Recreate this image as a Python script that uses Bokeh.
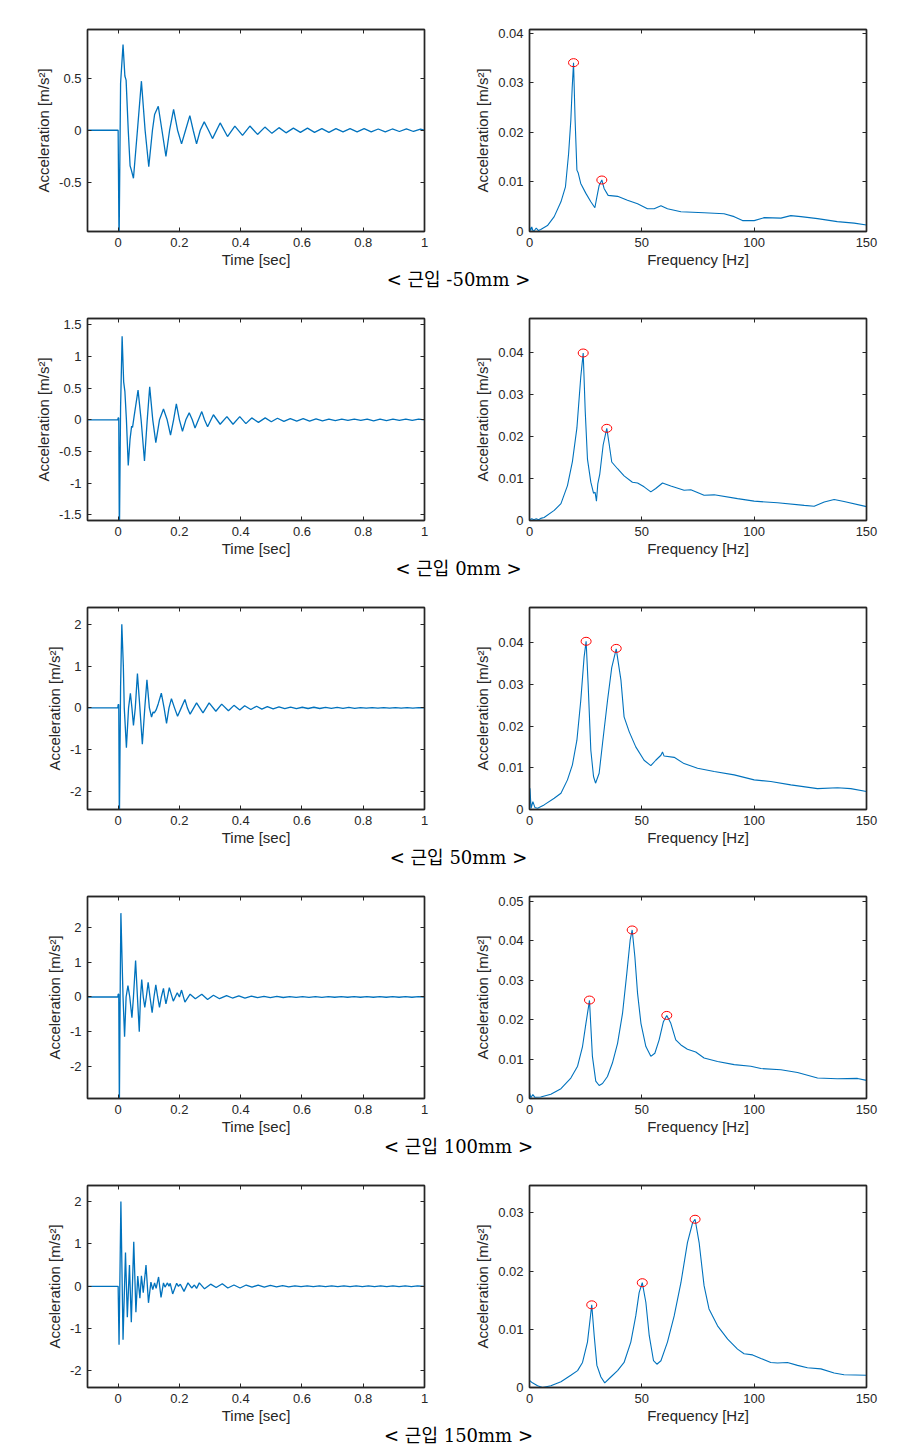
from bokeh.plotting import figure
from bokeh.layouts import column, row
from bokeh.models import Range1d, LinearAxis, FixedTicker, CustomJSTickFormatter
from bokeh.core.properties import value
from bokeh.embed import file_html
from bokeh.resources import INLINE

# ---------------- data ----------------
captions = ["< 근입 -50mm >", "< 근입 0mm >", "< 근입 50mm >", "< 근입 100mm >", "< 근입 150mm >"]

time_xticks = [0, 0.2, 0.4, 0.6, 0.8, 1]
time_xlabels = ["0", "0.2", "0.4", "0.6", "0.8", "1"]
freq_xticks = [0, 50, 100, 150]
freq_xlabels = ["0", "50", "100", "150"]

time_yticks = [
    [-0.5, 0, 0.5],
    [-1.5, -1, -0.5, 0, 0.5, 1, 1.5],
    [-2, -1, 0, 1, 2],
    [-2, -1, 0, 1, 2],
    [-2, -1, 0, 1, 2],
]
time_ylabels = [
    ["-0.5", "0", "0.5"],
    ["-1.5", "-1", "-0.5", "0", "0.5", "1", "1.5"],
    ["-2", "-1", "0", "1", "2"],
    ["-2", "-1", "0", "1", "2"],
    ["-2", "-1", "0", "1", "2"],
]
time_ylims = [(-0.97, 0.965), (-1.59, 1.6), (-2.43, 2.40), (-2.93, 2.90), (-2.39, 2.38)]

freq_yticks = [
    [0, 0.01, 0.02, 0.03, 0.04],
    [0, 0.01, 0.02, 0.03, 0.04],
    [0, 0.01, 0.02, 0.03, 0.04],
    [0, 0.01, 0.02, 0.03, 0.04, 0.05],
    [0, 0.01, 0.02, 0.03],
]
freq_ylabels = [
    ["0", "0.01", "0.02", "0.03", "0.04"],
    ["0", "0.01", "0.02", "0.03", "0.04"],
    ["0", "0.01", "0.02", "0.03", "0.04"],
    ["0", "0.01", "0.02", "0.03", "0.04", "0.05"],
    ["0", "0.01", "0.02", "0.03"],
]
freq_ymax = [0.0408, 0.048, 0.0484, 0.0513, 0.0347]

# time histories (extrema and crossings)
t_m50 = [-0.1, 0.0, 0.003, 0.008, 0.016, 0.022, 0.026, 0.033, 0.039, 0.043, 0.050, 0.063, 0.076, 0.088,
         0.100, 0.112, 0.119, 0.131, 0.143, 0.156, 0.168, 0.181, 0.194, 0.207, 0.220, 0.234, 0.245, 0.256,
         0.268, 0.281, 0.295, 0.308, 0.333, 0.357, 0.381, 0.406, 0.430, 0.455, 0.479, 0.502, 0.525, 0.548,
         0.572, 0.595, 0.618, 0.641, 0.665, 0.688, 0.711, 0.734, 0.757, 0.780, 0.803, 0.826, 0.849, 0.872,
         0.895, 0.918, 0.941, 0.964, 0.987, 1.0]
a_m50 = [0.0, 0.0, -1.1, 0.45, 0.82, 0.52, 0.48, 0.0, -0.34, -0.38, -0.46, 0.0, 0.47, 0.0,
         -0.35, 0.0, 0.15, 0.23, 0.0, -0.25, 0.0, 0.20, 0.0, -0.13, 0.0, 0.14, 0.0, -0.13,
         0.0, 0.08, 0.0, -0.08, 0.07, -0.06, 0.04, -0.05, 0.04, -0.04, 0.03, -0.03, 0.025, -0.025,
         0.02, -0.02, 0.02, -0.02, 0.015, -0.02, 0.015, -0.015, 0.015, -0.015, 0.015, -0.015, 0.012, -0.015,
         0.012, -0.012, 0.012, -0.012, 0.01, 0.0]

t_0 = [-0.1, -0.001, 0.0, 0.002, 0.004, 0.008, 0.013, 0.018, 0.022, 0.027, 0.033, 0.039, 0.044, 0.047,
       0.052, 0.065, 0.075, 0.086, 0.095, 0.103, 0.113, 0.123, 0.135, 0.148, 0.160, 0.171, 0.181, 0.190,
       0.200, 0.210, 0.221, 0.232, 0.242, 0.251, 0.262, 0.273, 0.282, 0.292, 0.311, 0.333, 0.355, 0.375,
       0.397, 0.417, 0.436, 0.458, 0.480, 0.500, 0.520, 0.541, 0.562, 0.583, 0.604, 0.625, 0.646, 0.667,
       0.688, 0.709, 0.730, 0.750, 0.771, 0.792, 0.813, 0.834, 0.855, 0.876, 0.897, 0.918, 0.939, 0.960,
       0.981, 1.0]
a_0 = [0.0, 0.0, 0.03, 0.03, -1.9, 0.2, 1.32, 0.6, 0.45, 0.0, -0.72, -0.3, -0.1, -0.12,
       0.05, 0.47, 0.0, -0.65, 0.0, 0.52, 0.0, -0.36, 0.0, 0.17, 0.0, -0.24, 0.0, 0.25,
       0.0, -0.18, 0.0, 0.11, 0.0, -0.13, 0.0, 0.13, 0.0, -0.11, 0.08, -0.07, 0.05, -0.07,
       0.05, -0.06, 0.03, -0.04, 0.03, -0.03, 0.025, -0.025, 0.02, -0.02, 0.02, -0.02, 0.015, -0.015,
       0.012, -0.012, 0.01, -0.01, 0.01, -0.01, 0.012, -0.015, 0.012, -0.012, 0.01, -0.01, 0.01, -0.01,
       0.01, 0.0]

t_50 = [-0.1, -0.001, 0.0, 0.002, 0.004, 0.008, 0.012, 0.017, 0.020, 0.027, 0.034, 0.040, 0.045, 0.050,
        0.056, 0.063, 0.071, 0.079, 0.087, 0.094, 0.102, 0.109, 0.114, 0.118, 0.124, 0.131, 0.141, 0.150,
        0.158, 0.166, 0.174, 0.184, 0.194, 0.206, 0.218, 0.226, 0.235, 0.256, 0.277, 0.297, 0.319, 0.338,
        0.360, 0.378, 0.397, 0.413, 0.433, 0.452, 0.469, 0.487, 0.506, 0.525, 0.544, 0.563, 0.582, 0.601,
        0.620, 0.639, 0.658, 0.677, 0.696, 0.715, 0.734, 0.753, 0.772, 0.791, 0.810, 0.829, 0.848, 0.867,
        0.886, 0.905, 0.924, 0.943, 0.962, 0.981, 1.0]
a_50 = [0.0, 0.0, 0.08, 0.08, -2.8, 0.5, 2.0, 1.0, 0.0, -0.95, 0.0, 0.35, 0.0, -0.42,
        0.0, 0.82, 0.0, -0.87, 0.0, 0.67, 0.0, -0.22, -0.1, -0.12, -0.05, 0.1, 0.35, 0.0,
        -0.37, 0.0, 0.22, 0.0, -0.2, 0.0, 0.2, 0.0, -0.15, 0.12, -0.12, 0.12, -0.08, 0.09,
        -0.07, 0.06, -0.05, 0.05, -0.04, 0.04, -0.03, 0.03, -0.025, 0.025, -0.02, 0.02, -0.02, 0.015,
        -0.015, 0.015, -0.015, 0.012, -0.012, 0.01, -0.01, 0.01, -0.01, 0.008, -0.008, 0.008, -0.008, 0.008,
        -0.008, 0.008, -0.008, 0.008, -0.008, 0.008, 0.0]

t_100 = [-0.1, -0.001, 0.0, 0.002, 0.004, 0.007, 0.009, 0.013, 0.016, 0.021, 0.026, 0.032, 0.038, 0.045,
         0.050, 0.057, 0.063, 0.069, 0.073, 0.077, 0.082, 0.087, 0.092, 0.098, 0.104, 0.111, 0.117, 0.123,
         0.129, 0.135, 0.141, 0.148, 0.152, 0.156, 0.161, 0.167, 0.180, 0.193, 0.200, 0.207, 0.218, 0.235,
         0.252, 0.273, 0.292, 0.311, 0.331, 0.354, 0.373, 0.394, 0.414, 0.435, 0.455, 0.476, 0.497, 0.518,
         0.539, 0.560, 0.581, 0.602, 0.623, 0.644, 0.665, 0.686, 0.707, 0.728, 0.749, 0.770, 0.791, 0.812,
         0.833, 0.854, 0.875, 0.896, 0.917, 0.938, 0.959, 0.980, 1.0]
a_100 = [0.0, 0.0, 0.08, 0.08, -3.2, 0.5, 2.42, 1.0, 0.0, -1.15, 0.0, 0.33, 0.0, -0.6,
         0.0, 1.05, 0.0, -1.0, 0.0, 0.5, 0.0, -0.3, 0.0, 0.42, 0.0, -0.45, 0.0, 0.35,
         0.0, -0.3, 0.0, 0.25, 0.0, -0.2, 0.0, 0.27, -0.12, 0.12, 0.0, 0.2, -0.15, 0.08,
         -0.05, 0.08, -0.07, 0.05, -0.05, 0.04, -0.03, 0.03, -0.03, 0.025, -0.02, 0.02, -0.02, 0.015,
         -0.015, 0.012, -0.012, 0.012, -0.01, 0.01, -0.01, 0.008, -0.008, 0.008, -0.008, 0.008, -0.008, 0.008,
         -0.008, 0.008, -0.008, 0.008, -0.008, 0.008, -0.008, 0.008, 0.0]

t_150 = [-0.1, 0.0, 0.003, 0.009, 0.016, 0.024, 0.030, 0.037, 0.043, 0.051, 0.058, 0.064, 0.071, 0.076,
         0.082, 0.091, 0.099, 0.107, 0.113, 0.119, 0.124, 0.132, 0.140, 0.148, 0.153, 0.161, 0.166, 0.170,
         0.178, 0.191, 0.197, 0.203, 0.215, 0.228, 0.240, 0.249, 0.256, 0.265, 0.282, 0.302, 0.320, 0.340,
         0.358, 0.378, 0.398, 0.418, 0.437, 0.457, 0.477, 0.497, 0.517, 0.537, 0.557, 0.577, 0.597, 0.617,
         0.637, 0.657, 0.677, 0.697, 0.717, 0.737, 0.757, 0.777, 0.797, 0.817, 0.837, 0.857, 0.877, 0.897,
         0.917, 0.937, 0.957, 0.977, 1.0]
a_150 = [0.0, 0.0, -1.38, 2.0, -1.26, 0.80, -0.73, 0.50, -0.85, 1.05, -0.61, 0.24, -0.28, 0.25,
         -0.15, 0.50, -0.39, 0.10, -0.08, 0.08, -0.05, 0.22, -0.26, 0.08, -0.02, 0.08, 0.0, 0.07,
         -0.18, 0.07, 0.0, 0.05, -0.12, 0.08, -0.04, 0.03, -0.05, 0.08, -0.06, 0.05, -0.03, 0.06,
         -0.04, 0.03, -0.04, 0.03, -0.02, 0.03, -0.02, 0.02, -0.015, 0.015, -0.012, 0.012, -0.01, 0.01,
         -0.01, 0.01, -0.008, 0.008, -0.008, 0.008, -0.008, 0.008, -0.008, 0.008, -0.008, 0.008, -0.008, 0.008,
         -0.008, 0.008, -0.008, 0.008, 0.0]

# spectra
f_m50 = [0, 0.5, 1, 1.5, 2, 3, 4, 5, 6.5, 8, 11, 14, 16.0, 17.4, 18.4, 19.0, 19.6, 20.3, 21.1, 21.7,
         22.8, 25.1, 27.3, 29.1, 30.0, 31.0, 32.2, 33.2, 35.0, 39.2, 43.6, 48.1, 52.5, 55.5, 58.5, 61.4,
         67.4, 77.7, 86.6, 91.1, 94.8, 100, 104.5, 111.9, 116.3, 120.8, 128.2, 137, 144.5, 150]
s_m50 = [0.001, 0.0002, 0.0009, 0.0002, 0.0001, 0.0007, 0.0002, 0.0004, 0.0008, 0.0012, 0.003, 0.006,
         0.009, 0.0157, 0.0225, 0.029, 0.0341, 0.0225, 0.0124, 0.0118, 0.0097, 0.0077, 0.006, 0.0048,
         0.007, 0.0093, 0.0104, 0.0087, 0.0073, 0.0071, 0.0063, 0.0056, 0.0046, 0.0046, 0.0052, 0.0046,
         0.0040, 0.0038, 0.0036, 0.0030, 0.0022, 0.0022, 0.0028, 0.0027, 0.0032, 0.0030, 0.0026, 0.0020,
         0.0017, 0.0013]
pk_f_m50 = [19.6, 32.2]
pk_s_m50 = [0.0341, 0.0104]

f_0 = [0, 1, 2, 3, 4, 5, 6.5, 11, 14, 16.9, 19.1, 21.1, 22.8, 23.9, 24.8, 25.8, 27.3, 28.5, 29.2, 29.8,
       30.4, 31.3, 32.8, 34.4, 35.5, 36.6, 39.2, 42.1, 45.8, 48.1, 51.0, 54.0, 56.2, 59.2, 62.9, 68.8,
       71.8, 77.7, 82.2, 92.6, 100, 110.4, 122.3, 126.7, 131.2, 135.6, 140, 150]
s_0 = [0.0002, 0.0004, 0.0002, 0.0004, 0.0002, 0.0005, 0.0007, 0.0024, 0.004, 0.0083, 0.014, 0.022,
       0.034, 0.0398, 0.026, 0.0146, 0.0091, 0.0065, 0.0067, 0.0046, 0.0087, 0.0111, 0.018, 0.0219,
       0.018, 0.0139, 0.0123, 0.0106, 0.0091, 0.0089, 0.008, 0.0068, 0.0076, 0.0089, 0.0082, 0.0072,
       0.0073, 0.006, 0.0061, 0.0052, 0.0046, 0.0042, 0.0036, 0.0034, 0.0044, 0.005, 0.0045, 0.0033]
pk_f_0 = [23.9, 34.4]
pk_s_0 = [0.0398, 0.0219]

f_50 = [0, 0.2, 0.7, 1.5, 2.4, 3.6, 6.5, 11, 14, 16.9, 19.1, 21.1, 22.8, 24.3, 25.2, 26.1, 27.3, 28.5,
        29.4, 31.0, 32.5, 34.7, 36.6, 38.6, 40.7, 42.1, 44.4, 47.3, 51.0, 54.0, 56.2, 58.5, 59.2, 59.9,
        64.4, 68.8, 74.8, 82.2, 91.1, 100, 107.4, 116.3, 128.2, 137.1, 143, 150]
s_50 = [0.0, 0.0051, 0.0003, 0.0019, 0.0005, 0.0003, 0.0011, 0.0027, 0.0039, 0.0071, 0.0107, 0.0166,
        0.026, 0.0365, 0.0403, 0.030, 0.0142, 0.0079, 0.0063, 0.0087, 0.0158, 0.026, 0.034, 0.0385,
        0.031, 0.0222, 0.0186, 0.015, 0.0118, 0.0105, 0.0118, 0.013, 0.0138, 0.0128, 0.0125, 0.011,
        0.0099, 0.0091, 0.0083, 0.0071, 0.0067, 0.0059, 0.005, 0.0052, 0.005, 0.0043]
pk_f_50 = [25.2, 38.6]
pk_s_50 = [0.0403, 0.0386]

f_100 = [0, 0.6, 1.5, 2.4, 5, 9.5, 14, 18.4, 21.4, 23.6, 25.1, 26.7, 28.0, 29.5, 31.0, 32.5, 34.7, 36.9,
         39.2, 41.4, 43.3, 44.8, 45.7, 46.9, 48.1, 49.6, 51.8, 54.0, 55.8, 57.7, 59.6, 61.1, 62.9, 65.1,
         67.4, 70.3, 74.0, 77.7, 83.7, 91.1, 98.5, 103, 111.9, 119.3, 128.2, 137, 146, 150]
s_100 = [0.0014, 0.0002, 0.001, 0.0003, 0.0004, 0.0011, 0.0025, 0.0052, 0.0082, 0.0132, 0.019, 0.0249,
         0.0107, 0.0044, 0.0033, 0.0038, 0.0056, 0.009, 0.014, 0.0216, 0.0317, 0.0402, 0.0428, 0.036,
         0.0267, 0.0191, 0.0132, 0.0107, 0.0115, 0.0149, 0.0195, 0.0211, 0.0191, 0.0149, 0.0136, 0.0125,
         0.0118, 0.0103, 0.0094, 0.0086, 0.0082, 0.0076, 0.0073, 0.0066, 0.0052, 0.005, 0.0051, 0.0046]
pk_f_100 = [26.7, 45.7, 61.1]
pk_s_100 = [0.025, 0.0428, 0.0211]

f_150 = [0, 1.3, 3.6, 5.8, 9.5, 14, 18.4, 21.4, 23.6, 25.8, 27.0, 27.7, 28.8, 30.0, 31.8, 33.5, 36.2,
         39.2, 42.1, 45.1, 47.3, 48.8, 50.2, 51.8, 53.3, 55.2, 56.7, 58.5, 61.4, 64.4, 67.4, 70.3, 72.6,
         73.7, 75.5, 77.7, 79.9, 83.7, 88.2, 92.6, 95.5, 99.3, 103, 107.4, 110.4, 114.8, 119.3, 123.7,
         129.7, 135.6, 140, 150]
s_150 = [0.0012, 0.0008, 0.0003, 0.0, 0.0003, 0.001, 0.0021, 0.0029, 0.0043, 0.0078, 0.0118, 0.0142,
         0.0089, 0.0038, 0.0018, 0.0008, 0.0018, 0.0029, 0.0043, 0.0078, 0.0123, 0.0163, 0.018, 0.0146,
         0.0089, 0.0046, 0.004, 0.0046, 0.0078, 0.0123, 0.018, 0.0249, 0.0283, 0.0289, 0.0249, 0.0175,
         0.0135, 0.0106, 0.0083, 0.0066, 0.0058, 0.0056, 0.005, 0.0043, 0.0042, 0.0043, 0.0038, 0.0034,
         0.0032, 0.0025, 0.0022, 0.0021]
pk_f_150 = [27.7, 50.2, 73.7]
pk_s_150 = [0.0142, 0.018, 0.0289]

time_series = [(t_m50, a_m50), (t_0, a_0), (t_50, a_50), (t_100, a_100), (t_150, a_150)]
spectra = [(f_m50, s_m50, pk_f_m50, pk_s_m50), (f_0, s_0, pk_f_0, pk_s_0), (f_50, s_50, pk_f_50, pk_s_50),
           (f_100, s_100, pk_f_100, pk_s_100), (f_150, s_150, pk_f_150, pk_s_150)]

# ---------------- styling ----------------
AX = "#262626"
BLUE = "#0072BD"
FONT = "Liberation Sans"
FRAME_W, FRAME_H = 337, 202
TOP_FIRST, TOP = 29, 21
BOTTOM = 39
CAP_H = 27


def style_axis(ax):
    ax.axis_line_color = AX
    ax.axis_line_width = 1.4
    ax.major_tick_line_color = AX
    ax.major_tick_line_width = 1
    ax.major_tick_in = 4
    ax.major_tick_out = 0
    ax.minor_tick_line_color = None
    ax.major_label_text_font = FONT
    ax.major_label_text_font_size = "13px"
    ax.major_label_text_color = AX
    ax.major_label_standoff = 6
    ax.axis_label_text_font = FONT
    ax.axis_label_text_font_size = "15px"
    ax.axis_label_text_font_style = "normal"
    ax.axis_label_text_color = AX


def mirror(p, ticks, place):
    ax = LinearAxis(ticker=FixedTicker(ticks=ticks), formatter=CustomJSTickFormatter(code="return ''"))
    style_axis(ax)
    ax.major_label_standoff = 0
    p.add_layout(ax, place)


def base_fig(xr, yr, xt, xl, yt, yl, xlabel, bl, br, top):
    p = figure(frame_width=FRAME_W, frame_height=FRAME_H, x_range=Range1d(*xr), y_range=Range1d(*yr),
               output_backend="svg", toolbar_location=None,
               min_border_left=bl, min_border_right=br, min_border_top=top, min_border_bottom=BOTTOM)
    p.xgrid.visible = False
    p.ygrid.visible = False
    p.outline_line_color = AX
    p.outline_line_width = 1.4
    for ax in p.xaxis + p.yaxis:
        style_axis(ax)
    p.xaxis.ticker = FixedTicker(ticks=xt)
    p.xaxis.major_label_overrides = dict(zip(xt, xl))
    p.yaxis.ticker = FixedTicker(ticks=yt)
    p.yaxis.major_label_overrides = dict(zip(yt, yl))
    p.xaxis.axis_label = xlabel
    p.xaxis.axis_label_standoff = 1
    p.yaxis.axis_label = "Acceleration [m/s²]"
    p.yaxis.axis_label_standoff = 4
    mirror(p, xt, "above")
    mirror(p, yt, "right")
    return p


rows = []
for i in range(5):
    top = TOP_FIRST if i == 0 else TOP
    t, a = time_series[i]
    lp = base_fig((-0.1, 1.0), time_ylims[i], time_xticks, time_xlabels,
                  time_yticks[i], time_ylabels[i], "Time [sec]", 87, 46, top)
    lp.line(t, a, line_color=BLUE, line_width=1.3)

    f, s, pf, ps = spectra[i]
    rp = base_fig((0, 150), (0, freq_ymax[i]), freq_xticks, freq_xlabels,
                  freq_yticks[i], freq_ylabels[i], "Frequency [Hz]", 59, 25, top)
    rp.line(f, s, line_color=BLUE, line_width=1.1)
    rp.ellipse(x=pf, y=ps, width=10, height=8, width_units="screen", height_units="screen",
               fill_color=None, line_color="red", line_width=1)

    cap = figure(width=891, height=CAP_H, x_range=Range1d(0, 891), y_range=Range1d(0, CAP_H),
                 output_backend="svg", toolbar_location=None, x_axis_location=None,
                 y_axis_location=None, min_border=0)
    cap.grid.visible = False
    cap.outline_line_color = None
    cap.text(x=[458], y=[CAP_H - 9], text=[captions[i]],
             text_font=value("DejaVu Serif, Noto Sans CJK KR"), text_font_size="18px",
             text_align="center", text_baseline="middle", text_color="black")

    rows.append(row(lp, rp, spacing=0))
    rows.append(cap)

layout = column(*rows, spacing=0)
open("out.html", "w").write(file_html(layout, INLINE))
